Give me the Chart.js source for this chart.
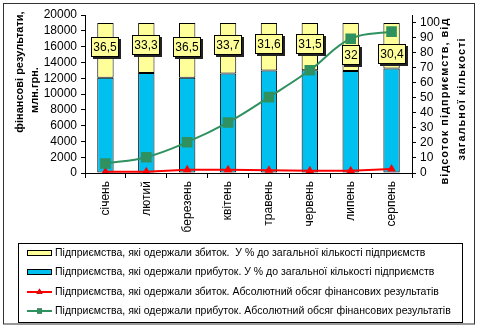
<!DOCTYPE html>
<html>
<head>
<meta charset="utf-8">
<script src="https://cdn.jsdelivr.net/npm/chart.js@4.4.0/dist/chart.umd.min.js"></script>
<style>
  body { margin: 0; background: #fff; }
  canvas { display: block; }
</style>
</head>
<body>
<canvas id="resultsChart" width="480" height="329"></canvas>
<script>
// months of the year
const months = ['січень', 'лютий', 'березень', 'квітень', 'травень', 'червень', 'липень', 'серпень'];

// share of enterprises, % of total
const lossShare = [36.5, 33.3, 36.5, 33.7, 31.6, 31.5, 32, 30.4];
const profitShare = [63.5, 66.7, 63.5, 66.3, 68.4, 68.5, 68, 69.6];

// absolute financial result, mln UAH
const lossAbs = [150, 150, 400, 400, 350, 300, 300, 500];
const profitAbs = [1200, 2000, 3900, 6400, 9600, 13000, 17000, 17900];

// right axis ticks, %
const pctTicks = [0, 10, 20, 30, 40, 50, 60, 70, 80, 90, 100];

const seriesNames = [
  'Підприємства, які одержали збиток.  У % до загальної кількості підприємств',
  'Підприємства, які одержали прибуток. У % до загальної кількості підприємств',
  'Підприємства, які одержали збиток. Абсолютний обсяг фінансових результатів',
  'Підприємства, які одержали прибуток. Абсолютний обсяг фінансових результатів'
];

const FONT = '"Liberation Sans", Arial, sans-serif';
const BLUE = '#00c0f0';
const YELLOW = '#ffff99';
const GREEN = '#2f9160';
const RED = '#ff0000';

// a couple of value boxes sit lower so the green line stays clear
const labelShift = [0, 0, 0, 0, 0, 0, 11, 11];

function fmt(v) {
  return String(v).replace('.', ',');
}

function drawRotated(ctx, text, x, y) {
  ctx.save();
  ctx.translate(x, y);
  ctx.rotate(-Math.PI / 2);
  ctx.fillText(text, 0, 0);
  ctx.restore();
}

const decorations = {
  id: 'decorations',
  afterDatasetsDraw(chart) {
    const ctx = chart.ctx;
    const meta = chart.getDatasetMeta(3);
    ctx.save();
    ctx.font = '12px ' + FONT;
    meta.data.forEach((bar, i) => {
      const p = bar.getProps(['x', 'y', 'base'], true);
      const cy = (p.y + p.base) / 2 - 3 + labelShift[i];
      const text = fmt(lossShare[i]);
      const w = Math.round(ctx.measureText(text).width + 5);
      const h = 20;
      const left = Math.round(p.x - w / 2);
      const top = Math.round(cy - h / 2);
      ctx.fillStyle = '#222';
      ctx.fillRect(left + 2, top + 2, w, h);
      ctx.fillStyle = YELLOW;
      ctx.fillRect(left, top, w, h);
      ctx.strokeStyle = '#000';
      ctx.lineWidth = 1;
      ctx.strokeRect(left + 0.5, top + 0.5, w - 1, h - 1);
      ctx.fillStyle = '#000';
      ctx.textAlign = 'center';
      ctx.textBaseline = 'middle';
      ctx.fillText(text, left + w / 2, top + h / 2 + 1);
    });
    ctx.restore();
  },
  afterDraw(chart) {
    const ctx = chart.ctx;
    ctx.save();

    // axis titles
    ctx.fillStyle = '#000';
    ctx.font = 'bold 11px ' + FONT;
    ctx.textAlign = 'center';
    ctx.textBaseline = 'middle';
    drawRotated(ctx, 'фінансові результати,', 20, 72);
    drawRotated(ctx, 'млн.грн.', 35, 90);
    ctx.letterSpacing = '1px';
    drawRotated(ctx, 'відсоток підприємств, від', 445, 101);
    drawRotated(ctx, 'загальної кількості', 462, 99);
    ctx.letterSpacing = '0px';

    // legend box
    ctx.strokeStyle = '#000';
    ctx.lineWidth = 1;
    ctx.strokeRect(18.5, 243.5, 444, 79);
    const order = [3, 2, 1, 0];
    const rows = [253, 272, 292, 311];
    ctx.font = '10.5px ' + FONT;
    ctx.textAlign = 'left';
    order.forEach((dsIndex, r) => {
      const ds = chart.data.datasets[dsIndex];
      const y = rows[r];
      if (ds.type === 'bar') {
        ctx.fillStyle = ds.backgroundColor;
        ctx.fillRect(27, y - 3, 25, 6);
        ctx.strokeStyle = '#000';
        ctx.strokeRect(27.5, y - 2.5, 24, 5);
      } else {
        ctx.strokeStyle = ds.borderColor;
        ctx.lineWidth = 2;
        ctx.beginPath();
        ctx.moveTo(27, y);
        ctx.lineTo(52, y);
        ctx.stroke();
        Chart.helpers.drawPoint(ctx, {
          pointStyle: ds.pointStyle,
          radius: 3.5,
          borderWidth: 0
        }, 39.5, y);
        ctx.fillStyle = ds.pointBackgroundColor;
        ctx.fill();
        ctx.lineWidth = 1;
      }
      ctx.fillStyle = '#000';
      ctx.fillText(ds.label, 55, y + 0.5);
    });

    // outer frame
    ctx.strokeStyle = '#333';
    ctx.strokeRect(3.5, 3.5, 471, 320.5);
    ctx.restore();
  }
};

new Chart(document.getElementById('resultsChart'), {
  data: {
    labels: months,
    datasets: [
      {
        type: 'line',
        label: seriesNames[3],
        data: profitAbs,
        yAxisID: 'y',
        order: 0,
        borderColor: GREEN,
        borderWidth: 2,
        tension: 0.4,
        pointStyle: 'rect',
        pointRadius: 7.5,
        pointBorderWidth: 0,
        pointBackgroundColor: GREEN
      },
      {
        type: 'line',
        label: seriesNames[2],
        data: lossAbs,
        yAxisID: 'y',
        order: 0,
        borderColor: RED,
        borderWidth: 2,
        tension: 0,
        pointStyle: 'triangle',
        pointRadius: 5,
        pointBorderWidth: 0,
        pointBackgroundColor: RED
      },
      {
        type: 'bar',
        label: seriesNames[1],
        data: profitShare,
        yAxisID: 'y1',
        stack: 'share',
        order: 1,
        backgroundColor: BLUE,
        borderColor: '#000',
        borderWidth: 1,
        borderSkipped: false,
        categoryPercentage: 1,
        barPercentage: 0.4
      },
      {
        type: 'bar',
        label: seriesNames[0],
        data: lossShare,
        yAxisID: 'y1',
        stack: 'share',
        order: 1,
        backgroundColor: YELLOW,
        borderColor: '#000',
        borderWidth: 1,
        borderSkipped: false,
        categoryPercentage: 1,
        barPercentage: 0.4
      }
    ]
  },
  options: {
    responsive: false,
    animation: false,
    layout: { padding: { top: 15, bottom: 96, left: 0, right: 0 } },
    plugins: {
      legend: { display: false },
      tooltip: { enabled: false }
    },
    scales: {
      x: {
        afterFit: s => { s.height = 60; },
        grid: { offset: true, drawOnChartArea: false, color: '#000', tickLength: 5 },
        border: { color: '#000' },
        ticks: {
          color: '#000',
          font: { family: FONT, size: 12 },
          minRotation: 90,
          maxRotation: 90,
          autoSkip: false,
          padding: 3
        }
      },
      y: {
        position: 'left',
        min: 0,
        max: 20000,
        afterFit: s => { s.width = 85; },
        grid: { drawOnChartArea: false, color: '#000', tickLength: 4 },
        border: { color: '#000' },
        ticks: {
          stepSize: 2000,
          autoSkip: false,
          color: '#000',
          font: { family: FONT, size: 12 },
          padding: 4,
          callback: v => String(v)
        }
      },
      y1: {
        position: 'right',
        stacked: true,
        min: 0,
        max: 105.33,
        afterFit: s => { s.width = 68; },
        afterBuildTicks: s => { s.ticks = pctTicks.map(v => ({ value: v })); },
        grid: { drawOnChartArea: false, color: '#000', tickLength: 4 },
        border: { color: '#000' },
        ticks: {
          autoSkip: false,
          color: '#000',
          font: { family: FONT, size: 12 },
          padding: 4,
          callback: v => String(v)
        }
      }
    }
  },
  plugins: [decorations]
});
</script>
</body>
</html>
